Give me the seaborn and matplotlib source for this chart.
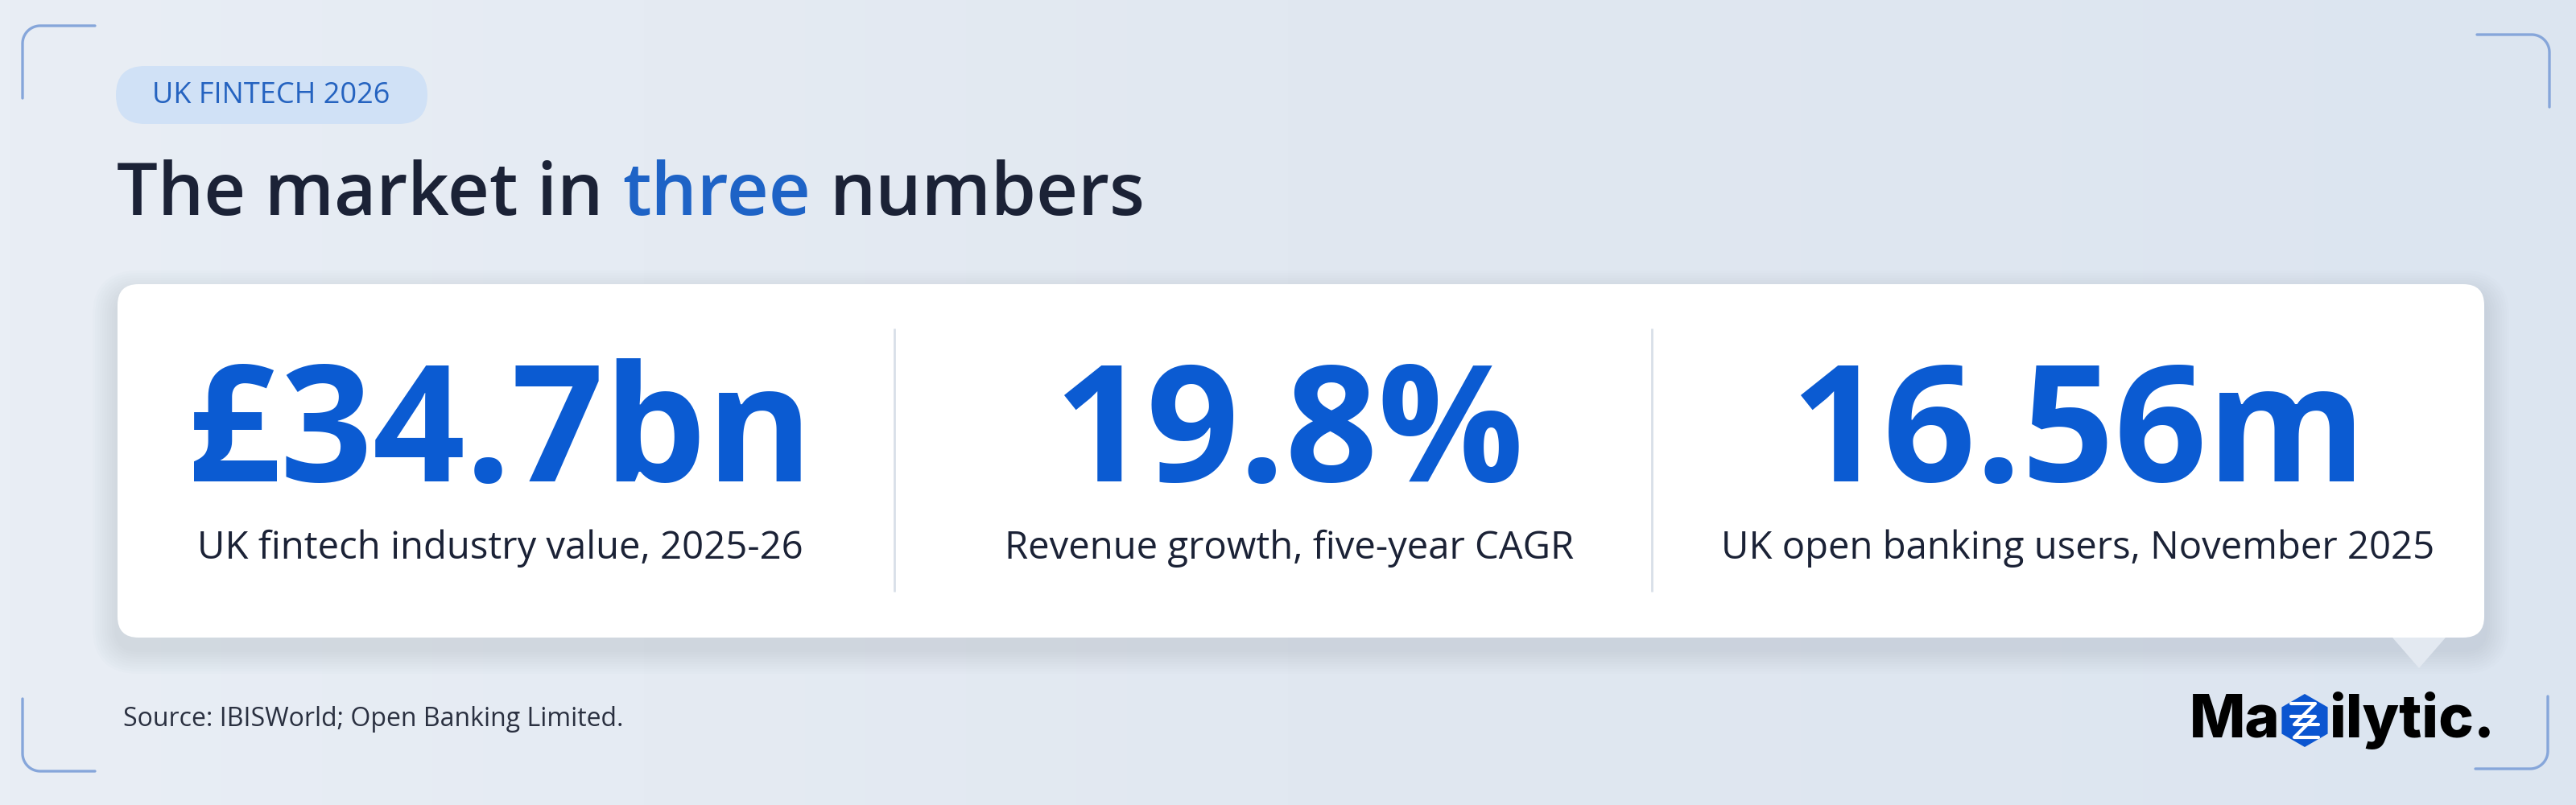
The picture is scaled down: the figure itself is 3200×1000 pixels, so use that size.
import numpy as np
import matplotlib
matplotlib.use("Agg")
import matplotlib.pyplot as plt
import seaborn as sns
from matplotlib.patches import FancyBboxPatch, RegularPolygon, Polygon
from matplotlib.colors import LinearSegmentedColormap

sns.set_theme(style="white")
plt.rcParams['font.family'] = ['Open Sans', 'DejaVu Sans']

# --- data ---
badge_label = "UK FINTECH 2026"
title_parts = ["The market in", "three", "numbers"]
kpi_values = ["£34.7bn", "19.8%", "16.56m"]
kpi_labels = ["UK fintech industry value, 2025-26",
              "Revenue growth, five-year CAGR",
              "UK open banking users, November 2025"]
source_note = "Source: IBISWorld; Open Banking Limited."

DARK = "#1b2236"
BLUE = "#0b5bd2"
ACCENT = "#1e63c6"
BRACKET = "#86a6da"

fig = plt.figure(figsize=(32, 10), dpi=100)

# background axes in pixel coordinates
bg = fig.add_axes([0, 0, 1, 1])
bg.set_xlim(0, 3200)
bg.set_ylim(1000, 0)
bg.axis("off")
grad = np.linspace(0, 1, 256).reshape(1, -1)
cmap = LinearSegmentedColormap.from_list("bg", ["#e9eef5", "#e1e8f1", "#dce5f0"])
bg.imshow(grad, cmap=cmap, extent=[0, 3200, 1000, 0], aspect="auto", zorder=0)


# corner brackets: horizontal arm -> rounded corner -> vertical arm
def bracket(cx, cy, sx, sy, arm=90, r=22):
    t = np.linspace(0, np.pi / 2, 24)
    arc_x = cx + sx * r - sx * r * np.sin(t)
    arc_y = cy + sy * r - sy * r * np.cos(t)
    xs = np.concatenate([[cx + sx * arm], arc_x, [cx]])
    ys = np.concatenate([[cy], arc_y, [cy + sy * arm]])
    bg.plot(xs, ys, color=BRACKET, lw=2.4, solid_capstyle="round", zorder=2)


bracket(28, 32, 1, 1)
bracket(3167, 43, -1, 1)
bracket(28, 958, 1, -1)
bracket(3165, 955, -1, -1)

# badge
bg.add_patch(FancyBboxPatch((144, 82), 387, 72,
                            boxstyle="round,pad=0,rounding_size=36",
                            fc="#d0e1f6", ec="none", zorder=2))
bg.text(337, 119, badge_label, ha="center", va="center", fontsize=26,
        color="#2563c0", zorder=3)

# title in two colours
TSIZE = 65
TW = "semibold"
t1 = bg.text(145, 267, title_parts[0], ha="left", va="baseline", fontsize=TSIZE,
             fontweight=TW, color=DARK, zorder=3)
fig.canvas.draw()
renderer = fig.canvas.get_renderer()
inv = bg.transData.inverted()
probe_a = bg.text(0, 0, "n n", fontsize=TSIZE, fontweight=TW, alpha=0)
probe_b = bg.text(0, 0, "nn", fontsize=TSIZE, fontweight=TW, alpha=0)
space = probe_a.get_window_extent(renderer).width - probe_b.get_window_extent(renderer).width
x_end = inv.transform((t1.get_window_extent(renderer).x1 + space, 0))[0]
t2 = bg.text(x_end, 267, title_parts[1], ha="left", va="baseline", fontsize=TSIZE,
             fontweight=TW, color=ACCENT, zorder=3)
fig.canvas.draw()
x_end = inv.transform((t2.get_window_extent(renderer).x1 + space, 0))[0]
bg.text(x_end, 267, title_parts[2], ha="left", va="baseline", fontsize=TSIZE,
        fontweight=TW, color=DARK, zorder=3)

# card shadow + card
for i in range(10):
    grow = 4 + i * 3
    bg.add_patch(FancyBboxPatch((146 - grow, 353 - grow + 14), 2940 + 2 * grow, 439 + 2 * grow,
                                boxstyle=f"round,pad=0,rounding_size={26 + grow}",
                                fc="#7d8fab", ec="none", alpha=0.018, zorder=3))
bg.add_patch(FancyBboxPatch((146, 353), 2940, 439,
                            boxstyle="round,pad=0,rounding_size=26",
                            fc="white", ec="none", zorder=4))
# speech tail under the card
bg.add_patch(Polygon([[2972, 792], [3038, 792], [3005, 830]], closed=True,
                     fc="#e3e9f1", ec="none", zorder=3.5))

# card content axes: one column per KPI
ax = fig.add_axes([146 / 3200, 1 - 792 / 1000, 2940 / 3200, 439 / 1000])
ax.set_facecolor("none")
ax.set_xlim(-0.485, 2.515)
ax.set_ylim(792, 353)
ax.axis("off")
ax.set_zorder(5)

for i, (val, lab) in enumerate(zip(kpi_values, kpi_labels)):
    ax.text(i, 598, val, ha="center", va="baseline", fontsize=145,
            fontweight="bold", color=BLUE)
    ax.text(i, 694, lab, ha="center", va="baseline", fontsize=34, color=DARK)
ax.vlines([0.5, 1.46], 408, 735, color="#d8dfe8", lw=2)

# source note
bg.text(153, 902, source_note, ha="left", va="baseline", fontsize=23,
        color="#2a3040", zorder=3)

# logo
bg.text(2832, 916, "Ma", ha="right", va="baseline", fontsize=53,
        fontweight="heavy", family=["Inter", "DejaVu Sans"], color="black", zorder=3)
bg.add_patch(RegularPolygon((2863, 895), numVertices=6, radius=33, orientation=0,
                            fc="#0b55d0", ec="none", zorder=3))
bg.plot([2846, 2876, 2850, 2880], [874, 874, 900, 900], color="white", lw=3, zorder=4)
bg.plot([2846, 2876, 2850, 2880], [890, 890, 916, 916], color="white", lw=3, zorder=4)
bg.text(2893, 916, "ilytic.", ha="left", va="baseline", fontsize=53,
        fontweight="heavy", family=["Inter", "DejaVu Sans"], color="black", zorder=3)

fig.savefig("out.png", dpi=100)
